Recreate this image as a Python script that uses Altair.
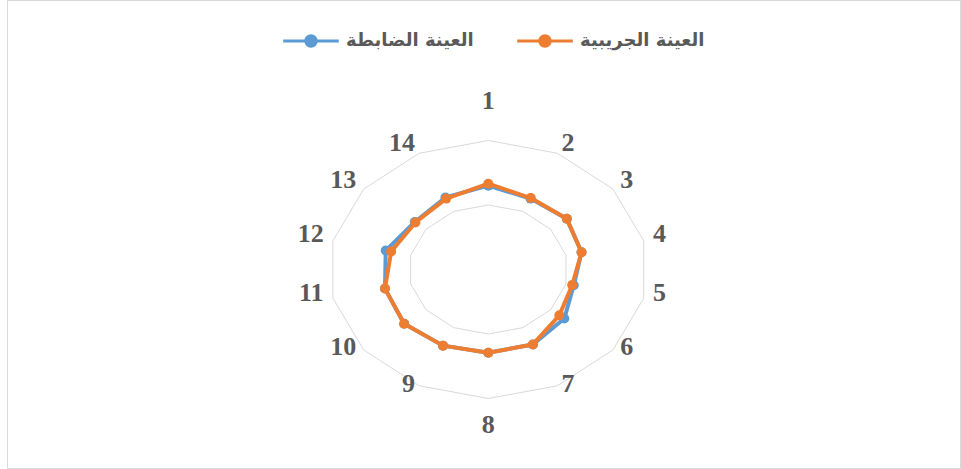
import math
import altair as alt
import pandas as pd

# ---- data ----
categories = [str(i) for i in range(1, 15)]
control = [1.30, 1.22, 1.26, 1.20, 1.10, 1.22, 1.29, 1.29, 1.31, 1.35, 1.33, 1.32, 1.18, 1.24]
experimental = [1.33, 1.23, 1.26, 1.20, 1.08, 1.14, 1.29, 1.29, 1.31, 1.35, 1.33, 1.25, 1.17, 1.22]
grid_levels = [1, 2]
axis_max = 2
series_names = ["العينة الضابطة", "العينة الجريبية"]
series_colors = ["#5B9BD5", "#ED7D31"]

# ---- geometry helpers (pixel per unit, reference is stretched horizontally) ----
X_PX = 79.7
Y_PX = 64.5
W, H = 953, 468
CX, CY = 481.3, 269.5
x_dom = [-CX / X_PX, (W - CX) / X_PX]
y_dom = [(CY - H) / Y_PX, CY / Y_PX]
n = len(categories)

def ang(k):
    return 2 * math.pi * k / n

# series table
rows = []
for name, vals in zip(series_names, [control, experimental]):
    for k in range(n + 1):
        v = vals[k % n]
        rows.append({"series": name, "idx": k, "value": v,
                     "x": v * math.sin(ang(k)), "y": v * math.cos(ang(k))})
df = pd.DataFrame(rows)

# grid table
grows = []
for lv in grid_levels:
    for k in range(n + 1):
        grows.append({"level": lv, "idx": k,
                      "x": lv * math.sin(ang(k)), "y": lv * math.cos(ang(k))})
gdf = pd.DataFrame(grows)

# category labels
lrows = []
for k, c in enumerate(categories):
    s, co = math.sin(ang(k)), math.cos(ang(k))
    vx, vy = axis_max * s, axis_max * co
    if abs(s) < 1e-6:
        pos = "center"
        dy = -39.3 if co > 0 else 26.5
        lx, ly = vx, vy - dy / Y_PX
    else:
        pos = "left" if s > 0 else "right"
        lx = vx + math.copysign(9.5 * abs(s), s) / X_PX
        ly = vy - (-5.8 - 4.8 * co) / Y_PX
    lrows.append({"label": c, "x": lx, "y": ly, "pos": pos})
ldf = pd.DataFrame(lrows)

xs = alt.Scale(domain=x_dom, nice=False, zero=False)
ys = alt.Scale(domain=y_dom, nice=False, zero=False)
X = alt.X("x:Q", scale=xs, axis=None)
Y = alt.Y("y:Q", scale=ys, axis=None)

grid = alt.Chart(gdf).mark_line(stroke="#d9d9d9", strokeWidth=1).encode(
    x=X, y=Y, detail="level:N", order="idx:Q")

legend_path = ("M-1,-0.05L1,-0.05L1,0.05L-1,0.05Z "
               "M0.24,0A0.24,0.24 0 1,1 -0.24,0A0.24,0.24 0 1,1 0.24,0Z")
fill_scale = alt.Scale(domain=series_names, range=series_colors)

layers = [grid]
for name, col in zip(series_names, series_colors):
    base = alt.Chart(df).transform_filter(alt.datum.series == name)
    line = base.mark_line(stroke=col, strokeWidth=4, strokeJoin="round").encode(
        x=X, y=Y, order="idx:Q")
    pts = base.transform_filter(alt.datum.idx < n).mark_point(
        filled=True, size=100, opacity=1, strokeWidth=0).encode(
        x=X, y=Y,
        fill=alt.Fill("series:N", scale=fill_scale, legend=alt.Legend(
            title=None, orient="none", legendX=276, legendY=13,
            direction="horizontal", symbolType=legend_path, symbolSize=3090,
            symbolStrokeWidth=0, symbolOpacity=1, labelFont="DejaVu Sans",
            labelFontSize=18, labelFontWeight="bold", labelColor="#595959",
            labelOffset=7, columnPadding=43, labelLimit=300)))
    layers += [line, pts]

for pos in ["center", "left", "right"]:
    layers.append(alt.Chart(ldf).transform_filter(alt.datum.pos == pos).mark_text(
        align=pos, baseline="middle", font="Liberation Serif", fontWeight="bold",
        fontSize=26, color="#595959").encode(x=X, y=Y, text="label:N"))

chart = alt.layer(*layers).properties(
    width=W, height=H,
    padding={"left": 7, "top": 0, "right": 1, "bottom": 1},
    autosize=alt.AutoSizeParams(type="none"),
).configure_view(stroke="#d9d9d9", strokeWidth=1)

chart.save("out.html", embed_options={"renderer": "svg", "actions": False})
